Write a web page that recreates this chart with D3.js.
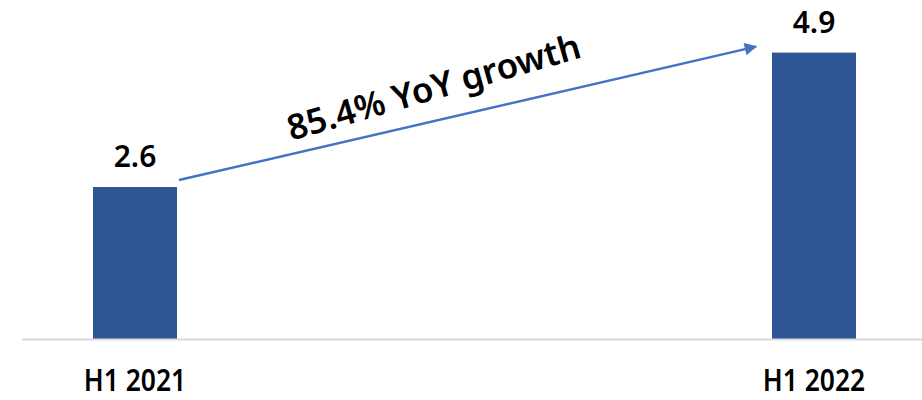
<html>
<head>
<script src="https://d3js.org/d3.v7.min.js"></script>
<style>
  body { margin: 0; background: #fff; }
  text { font-family: "Noto Sans", "Open Sans", sans-serif; fill: #000; }
  .val { font-size: 30px; font-weight: 600; text-anchor: middle; }
  .cat { font-size: 30px; font-weight: 600; text-anchor: middle; }
  .growth { font-size: 35px; font-weight: 600; text-anchor: middle; }
</style>
</head>
<body>
<svg id="chart"></svg>
<script>
var categories = ["H1 2021", "H1 2022"];
var values = [2.6, 4.9];
var growthLabel = "85.4% YoY growth";

var W = 922, H = 400;
var base = 339, barW = 84;

var svg = d3.select("#chart").attr("width", W).attr("height", H);

var x = d3.scalePoint().domain(categories).range([135, 814]);
var y = d3.scaleLinear().domain([0, 5.8]).range([base, 0]);

// bars
svg.selectAll("rect.bar")
  .data(values)
  .enter().append("rect")
  .attr("class", "bar")
  .attr("x", function(d, i) { return x(categories[i]) - barW / 2; })
  .attr("y", function(d) { return y(d); })
  .attr("width", barW)
  .attr("height", function(d) { return base - y(d); })
  .attr("fill", "#2f5597");

// baseline
svg.append("line")
  .attr("x1", 22).attr("x2", W)
  .attr("y1", base + 0.5).attr("y2", base + 0.5)
  .attr("stroke", "#d9d9d9").attr("stroke-width", 2);

// value labels
svg.selectAll("text.val")
  .data(values)
  .enter().append("text")
  .attr("class", "val")
  .attr("x", function(d, i) { return x(categories[i]); })
  .attr("y", function(d) { return y(d) - 20; })
  .text(function(d) { return d.toFixed(1); });

// category labels (narrow look)
svg.selectAll("text.cat")
  .data(categories)
  .enter().append("text")
  .attr("class", "cat")
  .attr("transform", function(d) { return "translate(" + x(d) + ",391) scale(0.88,1)"; })
  .text(function(d) { return d; });

// growth arrow
var defs = svg.append("defs");
defs.append("marker")
  .attr("id", "ah")
  .attr("viewBox", "0 0 10 10")
  .attr("refX", 9).attr("refY", 5)
  .attr("markerWidth", 6).attr("markerHeight", 5)
  .attr("markerUnits", "strokeWidth")
  .attr("orient", "auto")
  .append("path")
  .attr("d", "M0,0 L10,5 L0,10 Z")
  .attr("fill", "#4472c4");

var x0 = x(categories[0]) + barW / 2 + 2, y0 = y(values[0]) - 7;
var x1 = x(categories[1]) - barW / 2 - 16, y1 = y(values[1]) - 6;
svg.append("line")
  .attr("x1", x0).attr("y1", y0)
  .attr("x2", x1).attr("y2", y1)
  .attr("stroke", "#4472c4").attr("stroke-width", 2.5)
  .attr("marker-end", "url(#ah)");

svg.append("text")
  .attr("class", "growth")
  .attr("transform", "translate(437,99) rotate(-16)")
  .text(growthLabel);
</script>
</body>
</html>
